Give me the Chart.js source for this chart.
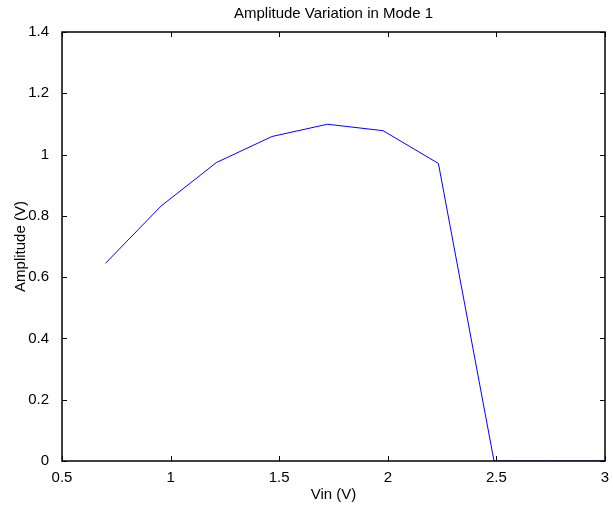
<!DOCTYPE html>
<html>
<head>
<meta charset="utf-8">
<script src="https://cdn.jsdelivr.net/npm/chart.js@4/dist/chart.umd.min.js"></script>
<style>
  html, body { margin: 0; padding: 0; background: #fff; }
  #wrap { width: 613px; height: 507px; }
</style>
</head>
<body>
<div id="wrap"><canvas id="ampChart" width="613" height="507"></canvas></div>
<script>
const vin = [0.7, 0.956, 1.211, 1.467, 1.722, 1.978, 2.233, 2.489, 2.744, 3.0];
const amplitude = [0.645, 0.832, 0.974, 1.059, 1.099, 1.078, 0.971, 0, 0, 0];
const xTicks = [0.5, 1, 1.5, 2, 2.5, 3];
const yTicks = [0, 0.2, 0.4, 0.6, 0.8, 1, 1.2, 1.4];

const FONT = 'Liberation Sans, Arial, Helvetica, sans-serif';

// matlab-style box with inward tick marks
const boxPlugin = {
    id: 'box',
    afterDraw(chart) {
        const ctx = chart.ctx;
        const a = chart.chartArea;
        const xs = chart.scales.x, ys = chart.scales.y;
        const len = 5;
        ctx.save();
        ctx.strokeStyle = '#000';
        ctx.lineWidth = 1;
        ctx.beginPath();
        xTicks.forEach(function (v) {
            const px = Math.round(xs.getPixelForValue(v)) + 0.5;
            ctx.moveTo(px, a.bottom); ctx.lineTo(px, a.bottom - len);
            ctx.moveTo(px, a.top); ctx.lineTo(px, a.top + len);
        });
        yTicks.forEach(function (v) {
            const py = Math.round(ys.getPixelForValue(v)) + 0.5;
            ctx.moveTo(a.left, py); ctx.lineTo(a.left + len, py);
            ctx.moveTo(a.right, py); ctx.lineTo(a.right - len, py);
        });
        ctx.stroke();
        ctx.lineWidth = 1.5;
        ctx.strokeRect(a.left, a.top, a.right - a.left, a.bottom - a.top);
        ctx.restore();
    }
};

new Chart(document.getElementById('ampChart').getContext('2d'), {
    type: 'line',
    data: {
        datasets: [{
            data: vin.map(function (v, i) { return { x: v, y: amplitude[i] }; }),
            borderColor: '#0000ff',
            borderWidth: 1,
            pointRadius: 0,
            tension: 0,
            fill: false
        }]
    },
    options: {
        responsive: false,
        animation: false,
        layout: { padding: { left: 0, right: 8, top: 0, bottom: 0 } },
        plugins: {
            legend: { display: false },
            tooltip: { enabled: false },
            title: {
                display: true,
                fullSize: false,
                text: 'Amplitude Variation in Mode 1',
                color: '#000',
                font: { family: FONT, size: 15, weight: 'normal' },
                padding: { top: 5, bottom: 9 }
            }
        },
        scales: {
            x: {
                type: 'linear',
                min: 0.5,
                max: 3,
                afterBuildTicks: function (s) { s.ticks = xTicks.map(function (v) { return { value: v }; }); },
                afterFit: function (s) { s.height = 46; },
                grid: { display: false },
                border: { display: false },
                ticks: {
                    color: '#000',
                    padding: 0,
                    maxRotation: 0,
                    font: { family: FONT, size: 15 },
                    callback: function (v) { return String(v); }
                },
                title: {
                    display: true,
                    text: 'Vin (V)',
                    color: '#000',
                    padding: { top: 0, bottom: 3 },
                    font: { family: FONT, size: 15 }
                }
            },
            y: {
                type: 'linear',
                min: 0,
                max: 1.4,
                afterBuildTicks: function (s) { s.ticks = yTicks.map(function (v) { return { value: v }; }); },
                afterFit: function (s) { s.width = 62; },
                grid: { display: false },
                border: { display: false },
                ticks: {
                    color: '#000',
                    padding: 5,
                    font: { family: FONT, size: 15 },
                    callback: function (v) { return String(v); }
                },
                title: {
                    display: true,
                    text: 'Amplitude (V)',
                    color: '#000',
                    padding: { top: 12, bottom: 0 },
                    font: { family: FONT, size: 15 }
                }
            }
        }
    },
    plugins: [boxPlugin]
});
</script>
</body>
</html>
